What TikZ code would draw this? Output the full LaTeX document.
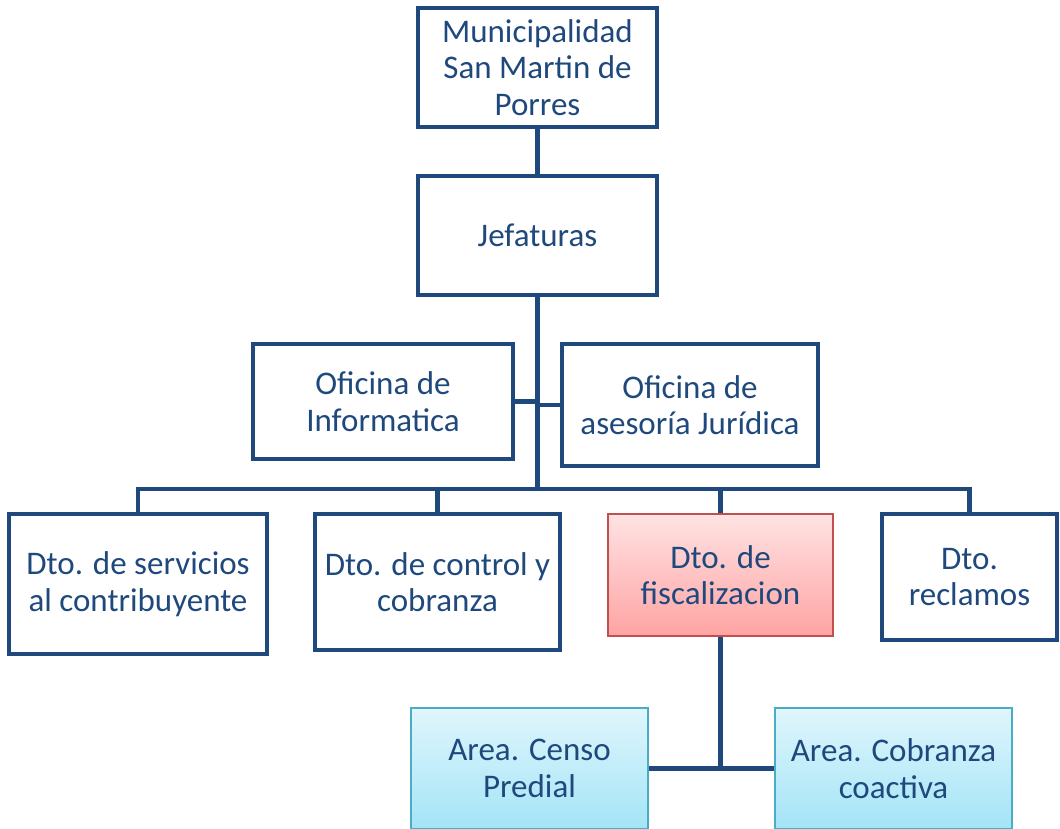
\documentclass[tikz,border=0pt]{standalone}
\usepackage{fontspec}
\setmainfont{Carlito}
\usepackage{xcolor}
\usepackage{tikz}
\usetikzlibrary{calc, positioning}

\definecolor{orgblue}{HTML}{1F497D}
\definecolor{fiscline}{HTML}{C0504D}
\definecolor{fisctop}{HTML}{FFE3E3}
\definecolor{fiscbot}{HTML}{FFA3A3}
\definecolor{arealine}{HTML}{4BACC6}
\definecolor{areatop}{HTML}{E0F6FC}
\definecolor{areabot}{HTML}{A3E4F7}

\tikzset{
  unit/.style = {draw = orgblue, line width = 4.5pt, text = orgblue, align = center,
                 font = \fontsize{33}{36.5}\selectfont, inner sep = 0pt},
  fisc box/.style = {unit, draw = fiscline, line width = 1.5pt,
                     top color = fisctop, bottom color = fiscbot},
  area box/.style = {unit, draw = arealine, line width = 1.5pt,
                     top color = areatop, bottom color = areabot},
  conn/.style = {draw = orgblue, line width = 4.5pt}
}

\begin{document}
\begin{tikzpicture}[x = 1pt, y = -1pt]
\useasboundingbox (0,0) rectangle (1060,828);

\node[unit, minimum width = 239pt, minimum height = 119pt] (muni) at (537.5,67.5)
  {Municipalidad\\San Martin de\\Porres};
\node[unit, minimum width = 239pt, minimum height = 119pt] (jef) at (537.5,235.5) {Jefaturas};

\node[unit, minimum width = 260pt, minimum height = 115pt] (inf) at (383,401.5)
  {Oficina de\\Informatica};
\node[unit, minimum width = 256pt, minimum height = 122pt] (jur) at (690,405)
  {Oficina de\\asesoría Jurídica};

\node[unit, minimum width = 258pt, minimum height = 140pt] (serv) at (138,584)
  {Dto. de servicios\\al contribuyente};
\node[unit, minimum width = 245pt, minimum height = 136pt] (ctrl) at (437.5,582)
  {Dto. de control y\\cobranza};
\node[fisc box, minimum width = 225pt, minimum height = 122pt] (fisc) at (720.5,575)
  {Dto. de\\fiscalizacion};
\node[unit, minimum width = 175pt, minimum height = 126pt] (recl) at (969.5,577)
  {Dto.\\reclamos};

\node[area box, minimum width = 237pt, minimum height = 121pt] (censo) at (529.5,768.5)
  {Area. Censo\\Predial};
\node[area box, minimum width = 237pt, minimum height = 121pt] (cobr) at (893.5,768.5)
  {Area. Cobranza\\coactiva};

\coordinate (bus) at (537.5,489);
\coordinate (sub) at (720.5,768);

% top of the chart
\draw[conn] (muni) -- (jef);
\draw[conn] (jef) -- (bus);
\draw[conn] (inf.east) -- (inf.east -| bus);
\draw[conn] (jur.west) -- (jur.west -| bus);

% departments hang from the bus
\draw[conn] (serv.north) |- (recl.north |- bus) -- (recl.north);
\draw[conn] (ctrl.north) -- (ctrl.north |- bus);
\draw[conn] (fisc.north) -- (fisc.north |- bus);

% areas under fiscalizacion
\draw[conn] (fisc) -- (sub);
\draw[conn] (censo.east) -- (cobr.west);

\end{tikzpicture}
\end{document}
